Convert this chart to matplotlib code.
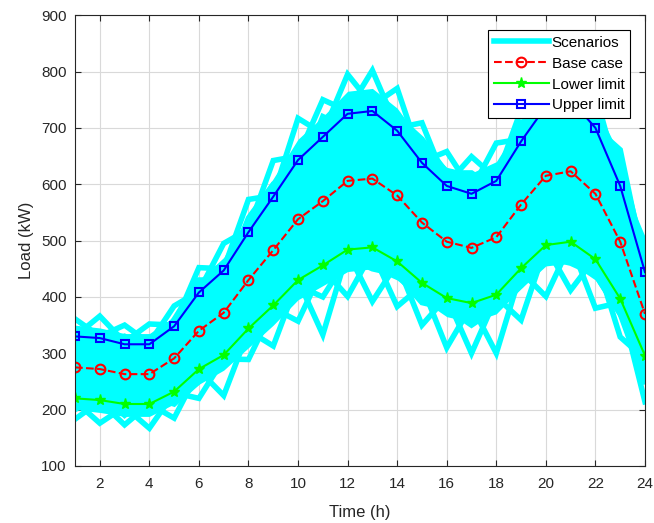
import matplotlib.pyplot as plt
import numpy as np

plt.rcParams['font.family'] = ['Liberation Sans', 'DejaVu Sans']

hours = list(range(1, 25))

base = [275, 272, 263, 263, 291, 340, 372, 430, 483, 538, 570, 606,
        610, 580, 532, 498, 487, 506, 564, 615, 623, 583, 498, 370]
upper = [330, 327, 316, 316, 348, 408, 447, 515, 578, 643, 684, 725,
         730, 695, 638, 597, 583, 606, 676, 738, 750, 700, 597, 444]
lower = [220, 217, 210, 210, 232, 272, 297, 344, 385, 430, 456, 484,
         488, 463, 425, 398, 389, 404, 451, 492, 498, 467, 397, 296]

# dense part of the scenario band (where the curves overlap solidly)
band_hi = [350, 345, 335, 335, 365, 430, 470, 545, 610, 680, 720, 765,
           770, 735, 675, 630, 620, 640, 710, 765, 780, 735, 630, 470]
band_lo = [200, 195, 188, 188, 210, 245, 270, 310, 350, 395, 420, 445,
           450, 430, 395, 365, 355, 370, 415, 455, 460, 430, 360, 255]

# individual scenario curves that stick out of the band
sc1 = [361, 330, 350, 318, 384, 410, 495, 520, 642, 650, 750, 730,
       802, 700, 709, 600, 649, 610, 732, 740, 790, 700, 661, 450]
sc2 = [330, 366, 320, 352, 350, 452, 450, 573, 580, 717, 690, 795,
       740, 770, 640, 658, 590, 673, 680, 775, 750, 760, 600, 496]
sc3 = [183, 215, 173, 210, 185, 270, 225, 340, 313, 430, 333, 480,
       392, 460, 350, 400, 300, 400, 359, 490, 412, 470, 329, 290]
sc4 = [215, 176, 205, 167, 230, 220, 290, 289, 380, 357, 450, 401,
       480, 383, 420, 310, 385, 300, 445, 401, 495, 380, 390, 214]
sc5 = [300, 305, 290, 295, 320, 380, 410, 480, 540, 600, 630, 680,
       690, 650, 590, 550, 540, 560, 630, 690, 700, 650, 560, 410]
sc6 = [245, 240, 235, 235, 260, 305, 335, 390, 430, 480, 510, 540,
       545, 520, 475, 445, 440, 455, 505, 550, 560, 520, 445, 330]
sc7 = [290, 260, 280, 250, 300, 330, 390, 420, 500, 520, 590, 600,
       630, 570, 550, 480, 500, 490, 580, 600, 640, 570, 520, 360]
sc8 = [260, 285, 250, 275, 280, 355, 360, 445, 470, 560, 555, 620,
       600, 600, 520, 520, 475, 520, 550, 630, 610, 600, 480, 390]
sc9 = [340, 310, 330, 300, 360, 430, 430, 540, 600, 610, 720, 700,
       760, 720, 680, 620, 620, 590, 710, 720, 770, 730, 640, 470]
sc10 = [200, 230, 190, 225, 210, 250, 300, 320, 360, 420, 400, 470,
        450, 440, 390, 380, 350, 380, 420, 470, 460, 440, 370, 250]
scenarios = [sc1, sc2, sc3, sc4, sc5, sc6, sc7, sc8, sc9, sc10]

fig = plt.figure(figsize=(6.54, 5.23), dpi=100)
ax = fig.add_axes([0.1147, 0.109, 0.8715, 0.862])

cyan = '#00FFFF'
ax.fill_between(hours, band_lo, band_hi, color=cyan, lw=0)
for i, s in enumerate(scenarios):
    ax.plot(hours, s, color=cyan, lw=4, solid_joinstyle='miter',
            label='Scenarios' if i == 0 else None)

ax.plot(hours, base, '--o', color='#FF0000', lw=1.5, markersize=7,
        markerfacecolor='none', markeredgewidth=1.5, label='Base case')
ax.plot(hours, lower, '-*', color='#00FF00', lw=1.5, markersize=8,
        label='Lower limit')
ax.plot(hours, upper, '-s', color='#0000FF', lw=1.5, markersize=6,
        markerfacecolor='none', markeredgewidth=1.5, label='Upper limit')

ax.set_xlim(1, 24)
ax.set_ylim(100, 900)
ax.set_xticks(range(2, 25, 2))
ax.set_yticks(range(100, 901, 100))
ax.grid(True, color='#d9d9d9', lw=0.8)
ax.set_axisbelow(True)
ax.tick_params(direction='in', top=True, right=True, labelsize=11,
               colors='#262626', length=4)
ax.tick_params(axis='x', pad=8)
ax.tick_params(axis='y', pad=6)
for sp in ax.spines.values():
    sp.set_color('#262626')
    sp.set_linewidth(0.8)

ax.set_xlabel('Time (h)', fontsize=12, color='#262626', labelpad=10)
ax.set_ylabel('Load (kW)', fontsize=12, color='#262626', labelpad=5)

leg = ax.legend(loc='upper right', fancybox=False, framealpha=1,
                edgecolor='black', fontsize=11, handlelength=3.6,
                borderaxespad=1.0, labelspacing=0.45, borderpad=0.35,
                handletextpad=0.2)
leg.get_frame().set_linewidth(0.8)

fig.savefig('out.png', dpi=100)
